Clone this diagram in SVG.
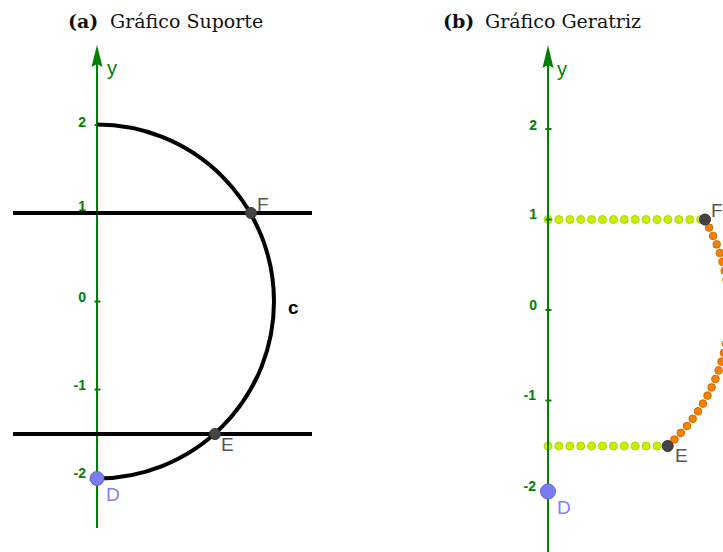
<svg xmlns="http://www.w3.org/2000/svg" width="723" height="552" viewBox="0 0 723 552">
<style>
.title{font-family:"DejaVu Serif","Liberation Serif",serif;font-size:19px;fill:#111}
.tb{font-weight:bold}
.axis{stroke:#008000;stroke-width:2;fill:none}
.tick{stroke:#008000;stroke-width:2}
.arrow{fill:#008000}
.num{font-family:"Liberation Sans",Arial,sans-serif;font-size:14px;font-weight:bold;fill:#008000;text-anchor:end}
.ylab{font-family:"Liberation Sans",Arial,sans-serif;font-size:20px;fill:#008000}
.blk{stroke:#000;stroke-width:4;fill:none}
.pt{fill:#444;stroke:#333;stroke-width:1}
.ptD{fill:#7b7bf2;stroke:#6262dd;stroke-width:1}
.lab{font-family:"Liberation Sans",Arial,sans-serif;font-size:19px;fill:#555}
.labD{font-family:"Liberation Sans",Arial,sans-serif;font-size:19px;fill:#7f7fff}
.labc{font-family:"Liberation Sans",Arial,sans-serif;font-size:19px;font-weight:bold;fill:#000}
.lime{fill:#c8ee00;stroke:#b2d400;stroke-width:1}
.or{fill:#f68000;stroke:#d86a00;stroke-width:1}
</style>

<!-- Titles -->
<g id="title-a">
<text class="title tb" x="68" y="28">(a)</text>
<text class="title" x="110" y="28">Gráfico Suporte</text>
</g>
<g id="title-b">
<text class="title tb" x="443" y="28">(b)</text>
<text class="title" x="485" y="28">Gráfico Geratriz</text>
</g>

<!-- ===== Panel (a) ===== -->
<g id="a-axis">
<line class="axis" x1="97" y1="60" x2="97" y2="528"/>
<polygon class="arrow" points="97,45 102.5,67 97,64 91.5,67"/>
<text class="ylab" x="107" y="75">y</text>
<line class="tick" x1="94.5" y1="125" x2="100.5" y2="125"/>
<line class="tick" x1="94.5" y1="213" x2="100.5" y2="213"/>
<line class="tick" x1="94.5" y1="301.5" x2="100.5" y2="301.5"/>
<line class="tick" x1="94.5" y1="389.5" x2="100.5" y2="389.5"/>
<line class="tick" x1="94.5" y1="478" x2="100.5" y2="478"/>
<text class="num" x="86" y="127">2</text>
<text class="num" x="86" y="211">1</text>
<text class="num" x="86" y="302">0</text>
<text class="num" x="86" y="390">-1</text>
<text class="num" x="86" y="478">-2</text>
</g>

<g id="connectors">
<line id="a-line1" class="blk" x1="13" y1="213" x2="312" y2="213"/>
<line id="a-line2" class="blk" x1="13" y1="434" x2="312" y2="434"/>
</g>

<g id="a-curve-c">
<path class="blk" stroke-width="4.5" d="M97,124.5 A177,177 0 0 1 97,478.5"/>
<text class="labc" x="288" y="314">c</text>
</g>

<g id="a-F">
<circle class="pt" cx="251" cy="213" r="5.5"/>
<text class="lab" x="257" y="211">F</text>
</g>
<g id="a-E">
<circle class="pt" cx="215" cy="434" r="5.5"/>
<text class="lab" x="221" y="451">E</text>
</g>
<g id="a-D">
<circle class="ptD" cx="97" cy="478.5" r="7"/>
<text class="labD" x="106" y="501">D</text>
</g>

<!-- ===== Panel (b) ===== -->
<g id="b-lime-top">
<circle class="lime" cx="548" cy="219.5" r="4"/>
<circle class="lime" cx="558.9" cy="219.5" r="4"/>
<circle class="lime" cx="569.8" cy="219.5" r="4"/>
<circle class="lime" cx="580.7" cy="219.5" r="4"/>
<circle class="lime" cx="591.6" cy="219.5" r="4"/>
<circle class="lime" cx="602.5" cy="219.5" r="4"/>
<circle class="lime" cx="613.4" cy="219.5" r="4"/>
<circle class="lime" cx="624.3" cy="219.5" r="4"/>
<circle class="lime" cx="635.2" cy="219.5" r="4"/>
<circle class="lime" cx="646.1" cy="219.5" r="4"/>
<circle class="lime" cx="657" cy="219.5" r="4"/>
<circle class="lime" cx="667.9" cy="219.5" r="4"/>
<circle class="lime" cx="678.8" cy="219.5" r="4"/>
<circle class="lime" cx="689.7" cy="219.5" r="4"/>
<circle class="lime" cx="700.6" cy="219.5" r="4"/>
</g>
<g id="b-lime-bottom">
<circle class="lime" cx="548" cy="446" r="4"/>
<circle class="lime" cx="558.9" cy="446" r="4"/>
<circle class="lime" cx="569.8" cy="446" r="4"/>
<circle class="lime" cx="580.7" cy="446" r="4"/>
<circle class="lime" cx="591.6" cy="446" r="4"/>
<circle class="lime" cx="602.5" cy="446" r="4"/>
<circle class="lime" cx="613.4" cy="446" r="4"/>
<circle class="lime" cx="624.3" cy="446" r="4"/>
<circle class="lime" cx="635.2" cy="446" r="4"/>
<circle class="lime" cx="646.1" cy="446" r="4"/>
<circle class="lime" cx="657" cy="446" r="4"/>
</g>
<g id="b-orange-arc">
<circle class="or" cx="709.1" cy="227.6" r="3.8"/>
<circle class="or" cx="713.1" cy="235.9" r="3.8"/>
<circle class="or" cx="716.7" cy="244.4" r="3.8"/>
<circle class="or" cx="719.8" cy="253" r="3.8"/>
<circle class="or" cx="722.5" cy="261.8" r="3.8"/>
<circle class="or" cx="724.7" cy="270.7" r="3.8"/>
<circle class="or" cx="726.5" cy="279.7" r="3.8"/>
<circle class="or" cx="727.8" cy="288.8" r="3.8"/>
<circle class="or" cx="728.6" cy="298" r="3.8"/>
<circle class="or" cx="729" cy="307.2" r="3.8"/>
<circle class="or" cx="728.9" cy="316.4" r="3.8"/>
<circle class="or" cx="728.3" cy="325.6" r="3.8"/>
<circle class="or" cx="727.3" cy="334.7" r="3.8"/>
<circle class="or" cx="725.8" cy="343.8" r="3.8"/>
<circle class="or" cx="723.9" cy="352.8" r="3.8"/>
<circle class="or" cx="721.5" cy="361.6" r="3.8"/>
<circle class="or" cx="718.6" cy="370.4" r="3.8"/>
<circle class="or" cx="715.4" cy="379" r="3.8"/>
<circle class="or" cx="711.6" cy="387.4" r="3.8"/>
<circle class="or" cx="707.5" cy="395.6" r="3.8"/>
<circle class="or" cx="702.9" cy="403.6" r="3.8"/>
<circle class="or" cx="698" cy="411.3" r="3.8"/>
<circle class="or" cx="692.7" cy="418.8" r="3.8"/>
<circle class="or" cx="687" cy="426" r="3.8"/>
<circle class="or" cx="680.8" cy="432.9" r="3.8"/>
<circle class="or" cx="674.4" cy="439.5" r="3.8"/>
</g>

<g id="b-axis">
<line class="axis" x1="548" y1="60" x2="548" y2="552"/>
<polygon class="arrow" points="548,45 553.5,68 548,65 542.5,68"/>
<text class="ylab" x="557" y="76">y</text>
<line class="tick" x1="545.5" y1="129" x2="551.5" y2="129"/>
<line class="tick" x1="545.5" y1="219.5" x2="551.5" y2="219.5"/>
<line class="tick" x1="545.5" y1="310" x2="551.5" y2="310"/>
<line class="tick" x1="545.5" y1="400.5" x2="551.5" y2="400.5"/>
<line class="tick" x1="545.5" y1="491" x2="551.5" y2="491"/>
<text class="num" x="537" y="130">2</text>
<text class="num" x="537" y="219">1</text>
<text class="num" x="537" y="310">0</text>
<text class="num" x="536" y="400">-1</text>
<text class="num" x="536" y="491">-2</text>
</g>

<g id="b-F">
<circle class="pt" cx="705" cy="219.5" r="5.5"/>
<text class="lab" x="711" y="217">F</text>
</g>
<g id="b-E">
<circle class="pt" cx="667.7" cy="446" r="5.5"/>
<text class="lab" x="675" y="462">E</text>
</g>
<g id="b-D">
<circle class="ptD" cx="548" cy="491.5" r="7.5"/>
<text class="labD" x="557" y="514">D</text>
</g>
</svg>
